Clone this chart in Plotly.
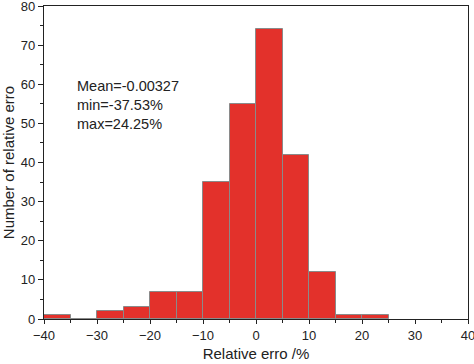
import plotly.graph_objects as go

bin_left = [-40, -35, -30, -25, -20, -15, -10, -5, 0, 5, 10, 15, 20]
counts = [1, 0, 2, 3, 7, 7, 35, 55, 74, 42, 12, 1, 1]
bin_width = 5
stats_text = ["Mean=-0.00327", "min=-37.53%", "max=24.25%"]
x_ticks = [-40, -30, -20, -10, 0, 10, 20, 30, 40]
y_ticks = [0, 10, 20, 30, 40, 50, 60, 70, 80]

fig = go.Figure()
fig.add_trace(go.Bar(
    x=bin_left, y=counts, width=[bin_width] * len(bin_left), offset=0,
    marker=dict(color="#E3312B", line=dict(color="#8a8a8a", width=1)),
))

font = "Liberation Sans, Arial, sans-serif"
fig.update_layout(
    width=474, height=364,
    margin=dict(l=44, r=6, t=6, b=45),
    paper_bgcolor="white", plot_bgcolor="white",
    showlegend=False, bargap=0,
    font=dict(family=font, size=13, color="#222"),
    xaxis=dict(
        range=[-40, 40], tickvals=x_ticks, ticks="outside", ticklen=4,
        tickwidth=1.2, tickcolor="#222", automargin=False,
        ticklabeloverflow="allow",
        minor=dict(dtick=5, tick0=0, ticks="outside", ticklen=3, tickcolor="#222"),
        showline=True, linecolor="#222", linewidth=1.2, mirror=True,
        showgrid=False, zeroline=False,
        title=dict(text="Relative erro /%", font=dict(size=15), standoff=6),
        tickfont=dict(size=13),
    ),
    yaxis=dict(
        range=[0, 80], tickvals=y_ticks, ticks="outside", ticklen=5,
        tickwidth=1.2, tickcolor="#222", automargin=False,
        ticklabeloverflow="allow",
        minor=dict(dtick=5, tick0=0, ticks="outside", ticklen=3, tickcolor="#222"),
        showline=True, linecolor="#222", linewidth=1.2, mirror=True,
        showgrid=False, zeroline=False,
        title=dict(text="Number of relative erro", font=dict(size=15), standoff=3),
        tickfont=dict(size=13),
    ),
    annotations=[dict(
        text="<br>".join(stats_text), xref="paper", yref="paper",
        x=0.073, y=0.775, xanchor="left", yanchor="top", align="left",
        showarrow=False, font=dict(size=14.5, color="#222"),
    )],
)

fig.write_html("out.html", config={"displayModeBar": False},
               post_script="document.body.style.margin='0';")
